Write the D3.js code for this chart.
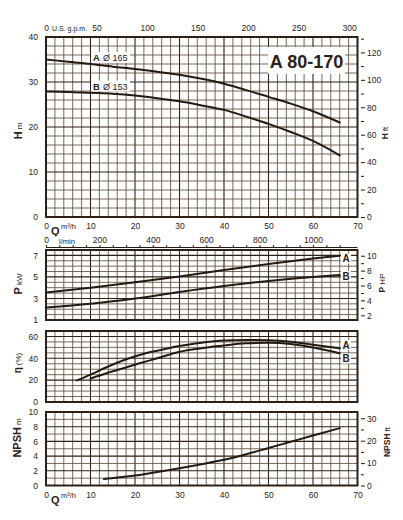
<!DOCTYPE html>
<html>
<head>
<meta charset="utf-8">
<script src="https://cdn.jsdelivr.net/npm/d3@7"></script>
<style>
body { margin: 0; background: #fff; }
svg text { font-family: "Liberation Sans", Arial, sans-serif; fill: #2b2119; }
</style>
</head>
<body>
<svg id="chart"></svg>
<script>
const width = 403;
const height = 520;

// axis tick labels
const qTicks = [0, 10, 20, 30, 40, 50, 60, 70];
const gpmTicks = [0, 50, 100, 150, 200, 250, 300];
const lminTicks = [0, 200, 400, 600, 800, 1000];
const hTicks = [0, 10, 20, 30, 40];
const hFtTicks = [0, 20, 40, 60, 80, 100, 120];
const pTicks = [1, 3, 5, 7];
const pHpTicks = [2, 4, 6, 8, 10];
const effTicks = [0, 20, 40, 60];
const npshTicks = [0, 2, 4, 6, 8, 10];
const npshFtTicks = [0, 10, 20, 30];

// head curves (m)
const qH = [0, 5, 10, 15, 20, 25, 30, 35, 40, 45, 50, 55, 60, 66];
const headA = [35.0, 34.5, 34.0, 33.4, 32.9, 32.3, 31.6, 30.7, 29.6, 28.2, 26.7, 25.2, 23.5, 21.0];
const headB = [27.9, 27.8, 27.6, 27.4, 27.0, 26.4, 25.7, 24.8, 23.8, 22.3, 20.7, 18.9, 16.9, 13.7];

// power curves (kW)
const qP = [0, 10, 20, 30, 40, 50, 60, 66];
const powerA = [3.55, 4.0, 4.5, 5.05, 5.65, 6.2, 6.7, 6.97];
const powerB = [2.15, 2.5, 3.0, 3.6, 4.15, 4.62, 5.0, 5.18];

// efficiency curves (%)
const qEffA = [7, 10, 13.6, 17, 21, 25, 30, 35, 39, 45, 50, 55, 60, 66];
const effA = [19.8, 25, 31.8, 37.5, 43, 47, 51.3, 54.3, 56.1, 56.8, 56.5, 55.2, 52.4, 49.2];
const qEffB = [10, 13.6, 17, 21, 25, 30, 35, 39, 45, 50, 55, 60, 66];
const effB = [21.5, 26.3, 30.5, 35.4, 40, 46, 49.3, 51.3, 53.8, 54.2, 53.2, 49.8, 44.6];

// NPSH curve (m)
const qNpsh = [13, 20, 25, 30, 35, 40, 45, 50, 55, 60, 66];
const npsh = [0.9, 1.35, 1.85, 2.35, 2.9, 3.5, 4.25, 5.1, 5.95, 6.8, 7.8];

const svg = d3.select("#chart")
  .attr("width", width)
  .attr("height", height);

const left = 46, right = 357.5;
const x = d3.scaleLinear().domain([0, 70]).range([left, right]);
const xGpm = d3.scaleLinear().domain([0, 70 / 0.22712]).range([left, right]);
const xLmin = d3.scaleLinear().domain([0, 70 * 1000 / 60]).range([left, right]);

const yH = d3.scaleLinear().domain([0, 40]).range([217, 37]);
const yHft = d3.scaleLinear().domain([0, 40 / 0.3048]).range([217, 37]);
const yP = d3.scaleLinear().domain([1, 7.5]).range([320, 250]);
const yHp = d3.scaleLinear().domain([1.37, 10.77]).range([320, 250]);
const yEff = d3.scaleLinear().domain([0, 65]).range([402, 331]);
const yNpsh = d3.scaleLinear().domain([0, 10]).range([485.5, 412]);
const yNpshFt = d3.scaleLinear().domain([0, 10 / 0.3048]).range([485.5, 412]);

const fmt = d3.format("d");
const gridMinor = "#5e4d3c";
const gridMajor = "#2e2015";
const ink = "#231a12";

function panel(y, step, majors) {
  const g = svg.append("g");
  const [d0, d1] = y.domain();
  // vertical grid
  g.selectAll(".vx")
    .data(d3.range(2, 70, 2))
    .enter().append("line")
    .attr("x1", d => x(d)).attr("x2", d => x(d))
    .attr("y1", y.range()[0]).attr("y2", y.range()[1])
    .attr("stroke", d => d % 10 === 0 ? gridMajor : gridMinor)
    .attr("stroke-width", d => d % 10 === 0 ? 1.1 : 0.85);
  // horizontal grid
  const isMajor = d => majors.some(m => Math.abs(m - d) < 1e-6);
  g.selectAll(".hy")
    .data(d3.range(d0 + step, d1 - step / 4, step))
    .enter().append("line")
    .attr("x1", left).attr("x2", right)
    .attr("y1", d => y(d)).attr("y2", d => y(d))
    .attr("stroke", d => isMajor(d) ? gridMajor : gridMinor)
    .attr("stroke-width", d => isMajor(d) ? 1.1 : 0.85);
  // border
  g.append("rect")
    .attr("x", left).attr("y", y.range()[1])
    .attr("width", right - left).attr("height", y.range()[0] - y.range()[1])
    .attr("fill", "none").attr("stroke", "#2e2015").attr("stroke-width", 2);
  return g;
}

function leftAxis(y, ticks) {
  const g = svg.append("g")
    .attr("transform", `translate(${left - 1},0)`)
    .call(d3.axisLeft(y).tickValues(ticks).tickSize(0).tickPadding(7).tickFormat(fmt));
  g.select(".domain").remove();
  g.selectAll("text").style("font-size", "8.5px").attr("fill", "#2b2119");
  return g;
}

function rightAxis(y, ticks, minor) {
  const gm = svg.append("g")
    .attr("transform", `translate(361,0)`)
    .call(d3.axisRight(y).tickValues(minor).tickSize(3).tickFormat(""));
  gm.select(".domain").remove();
  gm.selectAll("line").attr("stroke", ink);
  const g = svg.append("g")
    .attr("transform", `translate(361,0)`)
    .call(d3.axisRight(y).tickValues(ticks).tickSize(4).tickPadding(2).tickFormat(fmt));
  g.select(".domain").remove();
  g.selectAll("line").attr("stroke", ink);
  g.selectAll("text").style("font-size", "8.5px").attr("fill", "#2b2119");
}

function bottomAxis(yPos) {
  const g = svg.append("g")
    .attr("transform", `translate(0,${yPos})`)
    .call(d3.axisBottom(x).tickValues(qTicks).tickSize(0).tickPadding(6).tickFormat(fmt));
  g.select(".domain").remove();
  g.selectAll("text").style("font-size", "8.5px").attr("fill", "#2b2119");
  svg.append("text").attr("x", 51).attr("y", yPos + 18)
    .style("font-size", "11px").style("font-weight", "bold").text("Q");
  svg.append("text").attr("x", 61).attr("y", yPos + 12)
    .style("font-size", "7.5px").text("m³/h");
}

function curve(xs, ys, y) {
  const pts = xs.map((q, i) => [q, ys[i]]);
  svg.append("path")
    .datum(pts)
    .attr("fill", "none")
    .attr("stroke", ink)
    .attr("stroke-width", 2)
    .attr("stroke-linecap", "round")
    .attr("d", d3.line().x(d => x(d[0])).y(d => y(d[1])).curve(d3.curveMonotoneX));
}

function tag(px, py, txt) {
  svg.append("rect").attr("x", px - 5).attr("y", py - 8.5)
    .attr("width", 10).attr("height", 10).attr("fill", "#fff");
  svg.append("text").attr("x", px).attr("y", py)
    .attr("text-anchor", "middle")
    .style("font-size", "10px").style("font-weight", "bold").text(txt);
}

function vtitle(cx, cy, bold, rest, boldSize, restSize) {
  const t = svg.append("text")
    .attr("transform", `translate(${cx},${cy}) rotate(-90)`)
    .attr("text-anchor", "middle");
  t.append("tspan").style("font-size", boldSize).style("font-weight", "bold").text(bold);
  t.append("tspan").style("font-size", restSize).attr("dx", 2).text(rest);
}

// ---------- head panel ----------
panel(yH, 2, [10, 20, 30]);
leftAxis(yH, hTicks);
rightAxis(yHft, hFtTicks, [10, 30, 50, 70, 90, 110, 130]);

// top US gpm axis
const gTop = svg.append("g")
  .attr("transform", "translate(0,34)")
  .call(d3.axisTop(xGpm).tickValues(gpmTicks).tickSize(0).tickPadding(3).tickFormat(fmt));
gTop.select(".domain").remove();
gTop.selectAll("text").style("font-size", "8.5px").attr("fill", "#2b2119");
svg.append("rect").attr("x", 51).attr("y", 23).attr("width", 41).attr("height", 9).attr("fill", "#fff");
svg.append("text").attr("x", 52).attr("y", 30.5).style("font-size", "7px").text("U.S. g.p.m.");

bottomAxis(217);

// l/min axis
const gL = svg.append("g")
  .attr("transform", "translate(0,234)")
  .call(d3.axisBottom(xLmin).tickValues(lminTicks).tickSize(0).tickPadding(3).tickFormat(fmt));
gL.select(".domain").remove();
gL.selectAll("text").style("font-size", "8.5px").attr("fill", "#2b2119");
svg.append("rect").attr("x", 56).attr("y", 236).attr("width", 24).attr("height", 9).attr("fill", "#fff");
svg.append("text").attr("x", 59).attr("y", 243.5).style("font-size", "7.5px").text("l/min");

const gLt = svg.append("g")
  .attr("transform", "translate(0,247.5)")
  .call(d3.axisTop(xLmin).tickValues(d3.range(0, 1150, 50)).tickSize(2.5).tickFormat(""));
gLt.select(".domain").attr("d", `M${left},0H${right}`).attr("stroke", ink);
gLt.selectAll("line").attr("stroke", ink);

vtitle(22, 131, "H", "m", "11px", "8px");
vtitle(388, 133, "H", "ft", "8.5px", "8px");

curve(qH, headA, yH);
curve(qH, headB, yH);

// curve names in head panel
svg.append("rect").attr("x", 91).attr("y", 52).attr("width", 39).attr("height", 11).attr("fill", "#fff");
const ta = svg.append("text").attr("x", 93).attr("y", 61);
ta.append("tspan").style("font-size", "9.5px").style("font-weight", "bold").text("A");
ta.append("tspan").style("font-size", "9px").attr("dx", 3).text("Ø 165");
svg.append("rect").attr("x", 91).attr("y", 80.5).attr("width", 39).attr("height", 11).attr("fill", "#fff");
const tb = svg.append("text").attr("x", 93).attr("y", 89.5);
tb.append("tspan").style("font-size", "9.5px").style("font-weight", "bold").text("B");
tb.append("tspan").style("font-size", "9px").attr("dx", 3).text("Ø 153");

// model box
svg.append("rect").attr("x", 268).attr("y", 47).attr("width", 77).attr("height", 27).attr("fill", "#fff");
svg.append("text").attr("x", 306.5).attr("y", 67.5)
  .attr("text-anchor", "middle")
  .style("font-size", "18px").style("font-weight", "bold").text("A 80-170");

// ---------- power panel ----------
panel(yP, 0.5, [3, 5, 7]);
leftAxis(yP, pTicks);
rightAxis(yHp, pHpTicks, [3, 5, 7, 9]);
vtitle(22, 284, "P", "kW", "11px", "8px");
vtitle(385, 283, "P", "HP", "8.5px", "8px");
curve(qP, powerA, yP);
curve(qP, powerB, yP);
tag(346, 262, "A");
tag(346, 279.5, "B");

// ---------- efficiency panel ----------
panel(yEff, 5, [20, 40, 60]);
leftAxis(yEff, effTicks);
vtitle(21, 363, "η", "(%)", "10px", "8px");
curve(qEffA, effA, yEff);
curve(qEffB, effB, yEff);
tag(346, 348.5, "A");
tag(346, 362, "B");

// ---------- NPSH panel ----------
panel(yNpsh, 1, [2, 4, 6, 8]);
leftAxis(yNpsh, npshTicks);
rightAxis(yNpshFt, npshFtTicks, [5, 15, 25]);
vtitle(21, 438, "NPSH", "m", "11px", "8px");
vtitle(390, 442, "NPSH", "ft", "8.5px", "8px");
curve(qNpsh, npsh, yNpsh);
bottomAxis(485.5);
</script>
</body>
</html>
